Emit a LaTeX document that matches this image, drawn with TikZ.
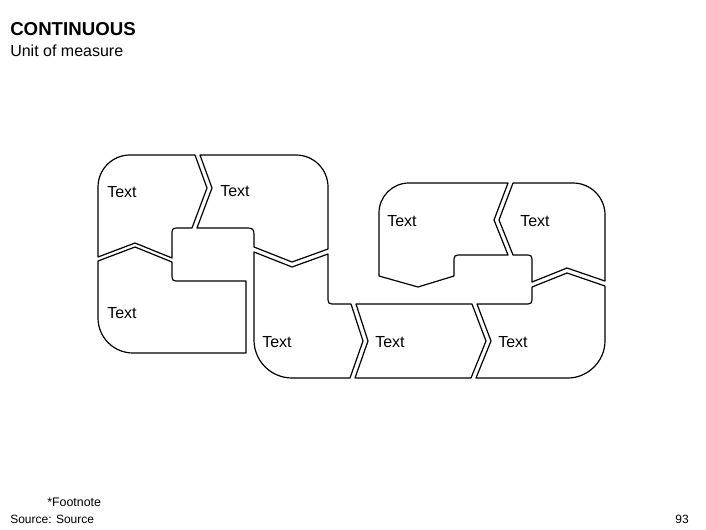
\documentclass[tikz,border=0pt]{standalone}
\usepackage{fontspec}
\setmainfont{Liberation Sans}
\tikzset{piece/.style={draw=black, line width=0.9pt, line join=round},
  lbl/.style={anchor=west, inner sep=0pt, font=\fontsize{12}{14}\selectfont}}

\begin{document}
\begin{tikzpicture}[x=0.75pt, y=-0.75pt]
\useasboundingbox (0,0) rectangle (706,529);
% heading
\node[anchor=west, inner sep=0pt, font=\bfseries\fontsize{14}{16}\selectfont] (title) at (10,29) {CONTINUOUS};
\node[anchor=west, inner sep=0pt, font=\fontsize{12}{14}\selectfont] (unit) at (10,51) {Unit of measure};
% left block
\draw[piece] (98,257) -- (98,187) .. controls (98,169.3) and (112.3,155) .. (130,155) -- (195,155) -- (207,188) -- (192,228)
    -- (180,228) .. controls (172,228) .. (172,236) -- (172,258) -- (135,243) -- cycle;
\draw[piece] (200,155) -- (296,155) .. controls (313.7,155) and (328,169.3) .. (328,187) -- (328,249) -- (292,262) -- (254,247)
    -- (254,238) .. controls (254,228) .. (244,228) -- (197,228) -- (212,188) -- cycle;
\draw[piece] (98,261) -- (135,247) -- (172,262) -- (172,273) .. controls (172,281) .. (180,281) -- (246,281)
    -- (246,353) -- (133,353) .. controls (113.7,353) and (98,337.3) .. (98,318) -- cycle;
\draw[piece] (254,252) -- (292,267) -- (328,254) -- (328,296) .. controls (328,304) .. (336,304) -- (351,304)
    -- (363,341) -- (350,378) -- (292,378) .. controls (271,378) and (254,361) .. (254,340) -- cycle;
% bottom row
\draw[piece] (356,304) -- (472,304) -- (486,341) -- (471,378) -- (355,378) -- (368,341) -- cycle;
\draw[piece] (477,304) -- (524,304) .. controls (532,304) .. (532,296) -- (532,287) -- (567,273) -- (605,286)
    -- (605,341) .. controls (605,361) and (588,378) .. (568,378) -- (476,378) -- (491,341) -- cycle;
% right block
\draw[piece] (513,183) -- (573,183) .. controls (590.7,183) and (605,197.3) .. (605,215) -- (605,281) -- (567,268) -- (532,282)
    -- (532,263) .. controls (532,255) .. (524,255) -- (513,255) -- (499,220) -- cycle;
\draw[piece] (379,276) -- (379,213) .. controls (379,196.4) and (392.4,183) .. (409,183) -- (508,183) -- (494,220) -- (508,255)
    -- (462,255) .. controls (454,255) .. (454,263) -- (454,276) -- (418,287) -- cycle;
% labels
\node[lbl] (txta) at (107,192) {Text};
\node[lbl] (txtb) at (220,191) {Text};
\node[lbl] (txtc) at (107,313) {Text};
\node[lbl] (txtd) at (262,342) {Text};
\node[lbl] (txtf) at (375,342) {Text};
\node[lbl] (txtg) at (498,342) {Text};
\node[lbl] (txte) at (387,221) {Text};
\node[lbl] (txth) at (520,221) {Text};
% footer
\node[anchor=west, inner sep=0pt, font=\fontsize{9.3}{11}\selectfont] (foot) at (47,502) {*Footnote};
\node[anchor=west, inner sep=0pt, font=\fontsize{9}{11}\selectfont] (src) at (10,519) {Source: Source};
\node[anchor=east, inner sep=0pt, font=\fontsize{9}{11}\selectfont] (page) at (689,519) {93};
\end{tikzpicture}
\end{document}
